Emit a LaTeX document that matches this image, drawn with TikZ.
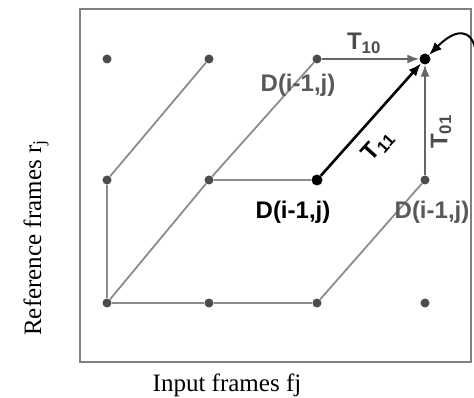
\documentclass[tikz,border=0pt]{standalone}
\usepackage{fontspec}
\setmainfont{Liberation Serif}
\setsansfont{Liberation Sans}
\usetikzlibrary{arrows.meta}

\begin{document}
\begin{tikzpicture}[
        x=1pt, y=-1pt,
        >=Latex,
        dot/.style={
            circle,
            fill=black!70,
            inner sep=0pt,
            minimum size=9pt
        },
        bigdot/.style={
            circle,
            fill=black,
            inner sep=0pt,
            minimum size=11pt
        },
        link/.style={draw=black!45, line width=1.8pt},
        arrow/.style={->, draw=black!60, line width=1.8pt, >={Latex[length=12pt,width=9pt]}},
        boldarrow/.style={->, draw=black, line width=2.6pt, >={Latex[length=13pt,width=10pt]}},
        lbl/.style={font=\fontsize{24}{28}\selectfont\sffamily\bfseries, inner sep=0pt},
        axis/.style={font=\fontsize{25}{29}\selectfont, inner sep=0pt}
    ]

    \useasboundingbox (0,0) rectangle (474,398);

    % Frame
    \draw[draw=black!50, line width=1.8pt] (80,9) rectangle (471,362);

    % Grid points (column = input frame, row = reference frame)
    \node[dot]    (a1) at (107,59)  {};
    \node[dot]    (b1) at (209,59)  {};
    \node[dot]    (c1) at (317,59)  {};
    \node[bigdot] (d1) at (425,59)  {};

    \node[dot]    (a2) at (107,180) {};
    \node[dot]    (b2) at (209,180) {};
    \node[bigdot] (c2) at (317,180) {};
    \node[dot]    (d2) at (425,180) {};

    \node[dot]    (a3) at (107,303) {};
    \node[dot]    (b3) at (209,303) {};
    \node[dot]    (c3) at (317,303) {};
    \node[dot]    (d3) at (425,303) {};

    % Paths
    \draw[link] (a2) -- (b1);
    \draw[link] (b2) -- (c1);
    \draw[link] (a3) -- (a2);
    \draw[link] (a3) -- (b2);
    \draw[link] (a3) -- (b3);
    \draw[link] (b3) -- (c3);
    \draw[link] (c3) -- (d2);
    \draw[link] (b2) -- (c2);

    % Transitions
    \draw[arrow] (c1) -- (d1);
    \draw[arrow] (d2) -- (d1);
    \draw[boldarrow] (c2) -- (d1);

    \coordinate (selfin) at (476,52);
    \draw[boldarrow, line width=2pt] (selfin) .. controls (472,28) and (456,28) .. (d1);

    % Labels
    \node[lbl, text=black!70] (t10) at (364,43) {T\textsubscript{10}};
    \node[lbl, text=black, rotate=48] (t11) at (378,146) {T\textsubscript{11}};
    \node[lbl, text=black!70, rotate=90] (t01) at (441,132) {T\textsubscript{01}};

    \node[lbl, text=black!65] (dtop) at (298,85) {D(i-1,j)};
    \node[lbl, text=black] (dmid) at (293,212) {D(i-1,j)};
    \node[lbl, text=black!65] (dright) at (432,212) {D(i-1,j)};

    % Axes
    \node[axis] (xlab) at (227,385) {Input frames fj};
    \node[axis, rotate=90] (ylab) at (36,238) {Reference frames r\textsubscript{j}};

\end{tikzpicture}
\end{document}
